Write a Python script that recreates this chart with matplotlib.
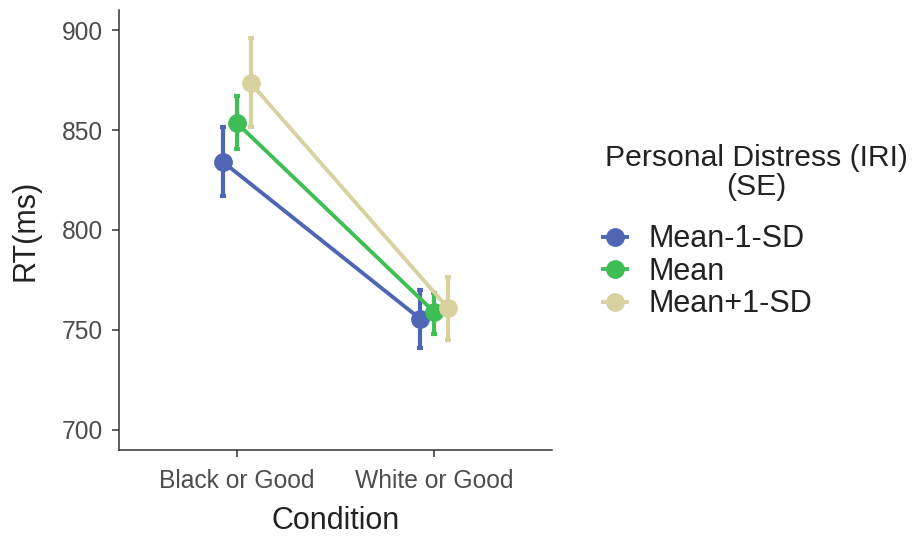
import matplotlib
matplotlib.use("Agg")
import matplotlib.pyplot as plt
from matplotlib.lines import Line2D
import numpy as np

categories = ["Black or Good", "White or Good"]
groups = ["Mean-1-SD", "Mean", "Mean+1-SD"]
means = {
    "Mean-1-SD": [834, 755.5],
    "Mean": [853.5, 759],
    "Mean+1-SD": [873.5, 761],
}
lower = {
    "Mean-1-SD": [817, 741],
    "Mean": [840.5, 748],
    "Mean+1-SD": [851.5, 745],
}
upper = {
    "Mean-1-SD": [851.5, 770],
    "Mean": [867, 768.5],
    "Mean+1-SD": [896, 776.5],
}
colors = {"Mean-1-SD": "#4E66B4", "Mean": "#3FBE55", "Mean+1-SD": "#D8D2A0"}
yticks = [700, 750, 800, 850, 900]
legend_title = "Personal Distress (IRI)\n(SE)"

plt.rcParams['font.family'] = ['Liberation Sans', 'DejaVu Sans']

fig = plt.figure(figsize=(9.13, 5.38), dpi=100)
ax = fig.add_axes([0.130, 0.164, 0.475, 0.817])

x = np.arange(1, len(categories) + 1)
offsets = [-0.07, 0.0, 0.07]
for g, off in zip(groups, offsets):
    m = np.array(means[g]); lo = np.array(lower[g]); hi = np.array(upper[g])
    xs = x + off
    ax.errorbar(xs, m, yerr=[m - lo, hi - m], fmt='none', ecolor=colors[g],
                elinewidth=3.0, capsize=2.5, capthick=3.0, zorder=2)
    ax.plot(xs, m, color=colors[g], lw=2.8, marker='o', markersize=12.5,
            zorder=3, solid_capstyle='butt')

ax.set_xlim(0.4, 2.6)
ax.set_ylim(690, 910)
ax.set_xticks(x)
ax.set_xticklabels(categories)
ax.set_yticks(yticks)
for s in ['top', 'right']:
    ax.spines[s].set_visible(False)
for s in ['left', 'bottom']:
    ax.spines[s].set_color('#333333')
    ax.spines[s].set_linewidth(1.1)
ax.tick_params(axis='both', colors='#333333', labelcolor='#4D4D4D',
               labelsize=17.7, length=5, width=1.1)
ax.tick_params(axis='x', pad=8.5)
ax.tick_params(axis='y', pad=6.5)
ax.set_xlabel("Condition", fontsize=22, color='#222222', labelpad=10)
ax.set_ylabel("RT(ms)", fontsize=22, color='#222222', labelpad=15)

fig.text(756 / 913, 1 - 172.5 / 538, legend_title, ha='center', va='center',
         fontsize=21.7, color='#222222', linespacing=1.05,
         multialignment='center')

handles = [Line2D([0], [0], color=colors[g], lw=2.8, marker='o', markersize=12.5)
           for g in groups]
leg = fig.legend(handles, groups,
                 loc='upper left', bbox_to_anchor=(0.660, 0.583), frameon=False,
                 fontsize=22, handlelength=0.8, borderaxespad=0,
                 handletextpad=0.7, labelspacing=0.08, borderpad=0)
for t in leg.get_texts():
    t.set_color('#222222')

fig.savefig("out.png", dpi=100)
